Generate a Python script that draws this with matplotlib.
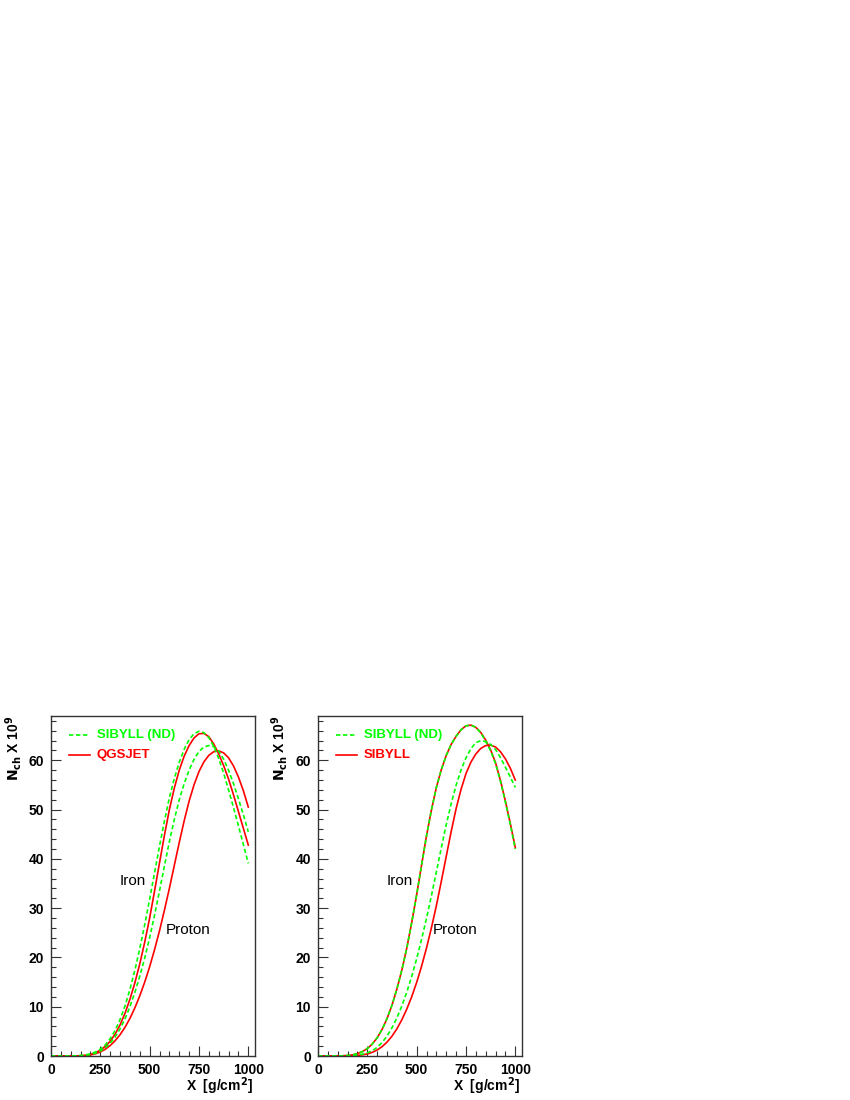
import matplotlib
matplotlib.use("Agg")
import matplotlib.pyplot as plt
from matplotlib.ticker import MultipleLocator

# ---------------- data ----------------
depth = [0, 100, 150, 175, 200, 225, 250, 275, 300, 325, 350, 375, 400, 425, 450,
         475, 500, 525, 550, 575, 600, 625, 650, 675, 700, 725, 750, 775, 800,
         825, 850, 875, 900, 925, 950, 975, 1000]

# left panel: SIBYLL (ND) vs QGSJET
left_sibnd_iron = [0, 0, 0.1, 0.22, 0.45, 0.81, 1.4, 2.26, 3.5, 5.2, 7.4, 10.17, 13.5,
                   17.41, 21.8, 26.64, 31.8, 37.21, 42.6, 47.73, 52.4, 56.33, 59.6,
                   62.24, 64.2, 65.42, 65.9, 65.62, 64.6, 62.82, 60.4, 57.39, 54.0,
                   50.43, 46.7, 42.93, 39.1]
left_sibnd_proton = [0, 0, 0.05, 0.15, 0.3, 0.57, 1.0, 1.66, 2.6, 3.87, 5.5, 7.54, 10.0,
                     12.89, 16.2, 19.89, 24.0, 28.61, 33.5, 38.56, 43.5, 48.0, 52.0,
                     55.29, 58.0, 60.2, 61.8, 62.71, 63.0, 62.77, 61.9, 60.24, 58.0,
                     55.28, 52.2, 48.96, 45.5]
left_qgs_iron = [0, 0, 0.05, 0.14, 0.3, 0.65, 1.2, 1.95, 3.0, 4.44, 6.3, 8.66, 11.5,
                 14.84, 18.7, 23.1, 28.0, 33.51, 39.2, 44.8, 50.0, 54.36, 58.0, 60.85,
                 63.0, 64.55, 65.4, 65.47, 64.8, 63.33, 61.3, 58.94, 56.2, 53.01, 49.6,
                 46.21, 42.8]
left_qgs_proton = [0, 0, 0.02, 0.07, 0.22, 0.45, 0.82, 1.37, 2.12, 3.1, 4.32, 5.82, 7.62,
                   9.76, 12.22, 15.0, 18.12, 21.6, 25.42, 29.6, 34.02, 38.68, 43.32,
                   47.73, 51.72, 55.04, 57.72, 59.69, 61.02, 61.76, 61.92, 61.52, 60.52,
                   58.87, 56.62, 53.84, 50.52]

# right panel: SIBYLL (ND) vs SIBYLL
right_sib_iron = [0, 0, 0.1, 0.22, 0.5, 0.89, 1.5, 2.42, 3.7, 5.41, 7.6, 10.32, 13.6,
                  17.45, 21.9, 27.07, 32.7, 38.76, 44.7, 49.94, 54.5, 58.12, 61.0, 63.23,
                  64.9, 66.21, 67.0, 67.15, 66.7, 65.67, 64.1, 62.13, 59.5, 55.9, 51.7,
                  47.15, 42.3]
right_sibnd_iron = [0, 0, 0.1, 0.22, 0.5, 0.89, 1.5, 2.42, 3.7, 5.41, 7.6, 10.32, 13.6,
                    17.45, 21.9, 27.07, 32.7, 38.76, 44.7, 49.94, 54.5, 58.12, 61.0,
                    63.23, 64.9, 66.21, 67.0, 67.15, 66.7, 65.57, 63.9, 61.93, 59.3,
                    55.7, 51.5, 46.9, 42.0]
right_sib_proton = [0, 0, 0.02, 0.05, 0.12, 0.23, 0.42, 0.74, 1.22, 1.9, 2.82, 4.02,
                    5.52, 7.35, 9.52, 12.03, 14.92, 18.22, 21.92, 26.03, 30.52, 35.45,
                    40.52, 45.54, 50.2, 54.11, 57.3, 59.64, 61.3, 62.42, 63.0, 63.11,
                    62.7, 61.75, 60.3, 58.39, 56.0]
right_sibnd_proton = [0, 0, 0.05, 0.09, 0.2, 0.36, 0.65, 1.08, 1.75, 2.74, 4.05, 5.72,
                      7.75, 10.16, 12.95, 16.16, 19.75, 23.69, 27.95, 32.56, 37.35, 42.24,
                      46.95, 51.2, 54.95, 58.04, 60.5, 62.38, 63.6, 63.99, 63.8, 63.24,
                      62.2, 60.56, 58.6, 56.6, 54.5]

xticks = [0, 250, 500, 750, 1000]
yticks = [0, 10, 20, 30, 40, 50, 60]

GREEN = "#00ff00"
RED = "#ff0000"
LW = 1.2
DASH = (0, (2.6, 1.6))

fig = plt.figure(figsize=(8.5, 11), dpi=100)
plt.rcParams['font.family'] = ['Liberation Sans', 'DejaVu Sans']

W, H = 850.0, 1100.0
panels = [
    (51, left_sibnd_iron, left_sibnd_proton, left_qgs_iron, left_qgs_proton, "QGSJET"),
    (318, right_sibnd_iron, right_sibnd_proton, right_sib_iron, right_sib_proton, "SIBYLL"),
]

for (x0, g_iron, g_prot, r_iron, r_prot, rname) in panels:
    ax = fig.add_axes([x0 / W, 44 / H, 204 / W, 340 / H])
    ax.plot(depth, r_iron, color=RED, lw=LW)
    ax.plot(depth, r_prot, color=RED, lw=LW)
    ax.plot(depth, g_iron, color=GREEN, lw=LW, linestyle=DASH)
    ax.plot(depth, g_prot, color=GREEN, lw=LW, linestyle=DASH)

    ax.set_xlim(0, 1034)
    ax.set_ylim(0, 69.0)
    ax.set_xticks(xticks)
    ax.set_yticks(yticks)
    ax.xaxis.set_minor_locator(MultipleLocator(50))
    ax.yaxis.set_minor_locator(MultipleLocator(2))
    ax.tick_params(which='both', direction='in', top=False, right=False,
                   labelsize=10, width=0.8, color='#333333')
    ax.tick_params(which='major', length=7, pad=5)
    ax.tick_params(which='minor', length=3.5)
    for lab in ax.get_xticklabels() + ax.get_yticklabels():
        lab.set_fontweight('bold')
    for sp in ax.spines.values():
        sp.set_linewidth(1.0)
        sp.set_color('#333333')

    # legend drawn manually
    ax.plot([0.088, 0.191], [0.944, 0.944], transform=ax.transAxes, color=GREEN,
            lw=LW, linestyle=DASH)
    ax.text(0.225, 0.944, "SIBYLL (ND)", transform=ax.transAxes, color=GREEN,
            fontsize=9.5, fontweight='bold', va='center', ha='left')
    ax.plot([0.088, 0.191], [0.885, 0.885], transform=ax.transAxes, color=RED, lw=LW)
    ax.text(0.225, 0.885, rname, transform=ax.transAxes, color=RED,
            fontsize=9.5, fontweight='bold', va='center', ha='left')

    ax.text(416, 35.5, "Iron", fontsize=11, ha='center', va='center')
    ax.text(696, 25.5, "Proton", fontsize=11, ha='center', va='center')

    # axis titles (ROOT style: right/top aligned)
    fig.text((x0 - 38) / W, 1 - 716 / H, r"$\mathbf{N_{ch}}$ X 10$^{\mathbf{9}}$",
             rotation=90, ha='center', va='top', fontsize=10, fontweight='bold')
    fig.text((x0 + 202) / W, 1 - 1086 / H, r"X  [g/cm$^{\mathbf{2}}$]",
             ha='right', va='center', fontsize=10, fontweight='bold')

fig.savefig("out.png", dpi=100)
